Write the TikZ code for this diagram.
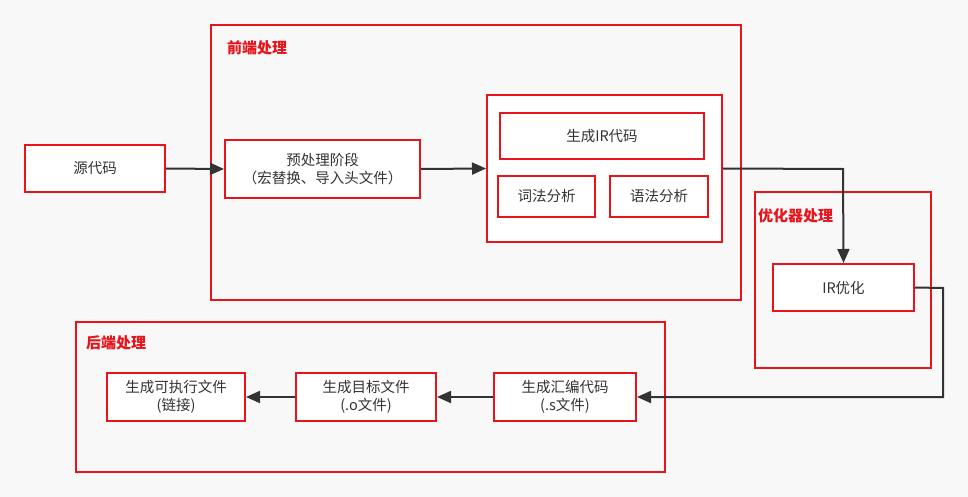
\documentclass[tikz,border=0pt]{standalone}
\usepackage{fontspec}
\setmainfont{Noto Sans CJK SC}
\usetikzlibrary{arrows.meta}
\definecolor{rd}{HTML}{E8141B}
\definecolor{ink}{HTML}{333333}
\definecolor{bg}{HTML}{F8F8F8}
\tikzset{
  box/.style={draw=rd, line width=2pt, fill=white, text=ink, font=\fontsize{14.5}{17.5}\selectfont, align=center, inner sep=0pt},
  group/.style={draw=rd, line width=2pt},
  glabel/.style={text=rd, font=\fontsize{15}{17}\selectfont\bfseries, anchor=west, inner sep=0pt},
  conn/.style={draw=ink, line width=2pt, -{Triangle[length=14pt,width=12pt]}},
}
\begin{document}
\begin{tikzpicture}[x=1pt,y=-1pt]
\fill[bg] (0,0) rectangle (968,497);
\useasboundingbox (0,0) rectangle (968,497);
% containers
\draw[group] (211,25) rectangle (741,300);
\node[glabel] (lfront) at (227,48) {前端处理};
\draw[group] (755,192) rectangle (931,368);
\node[glabel] (lopt) at (758,216) {优化器处理};
\draw[group] (76,322) rectangle (665,472);
\node[glabel] (lback) at (86,343) {后端处理};
% nodes
\node[box, minimum width=140pt, minimum height=47pt] (src) at (95,168.5) {源代码};
\node[box, minimum width=195pt, minimum height=58pt] (pre) at (322.5,169) {预处理阶段\\（宏替换、导入头文件）};
\node[box, minimum width=235pt, minimum height=147pt] (irg) at (604.5,168.5) {};
\node[box, minimum width=204pt, minimum height=46pt] (irc) at (602,136) {生成IR代码};
\node[box, minimum width=97pt, minimum height=41pt] (lex) at (546.5,196.5) {词法分析};
\node[box, minimum width=98pt, minimum height=41pt] (syn) at (659,196.5) {语法分析};
\node[box, minimum width=141pt, minimum height=47pt] (iro) at (843.5,287.5) {IR优化};
\node[box, minimum width=142pt, minimum height=48pt] (asm) at (565,397) {生成汇编代码\\(.s文件)};
\node[box, minimum width=140pt, minimum height=48pt] (obj) at (366,397) {生成目标文件\\(.o文件)};
\node[box, minimum width=138pt, minimum height=48pt] (exe) at (176,397) {生成可执行文件\\(链接)};
\coordinate (c1) at (843,169);
\coordinate (c2) at (943,288);
\coordinate (c3) at (943,397);
% connectors
\draw[conn] (src.east) -- (pre.west);
\draw[conn] (pre.east) -- (irg.west);
\draw[conn] (irg.east) -- (c1) -- (iro.north);
\draw[conn] (iro.east) -- (c2) -- (c3) -- (asm.east);
\draw[conn] (asm.west) -- (obj.east);
\draw[conn] (obj.west) -- (exe.east);
\end{tikzpicture}
\end{document}
